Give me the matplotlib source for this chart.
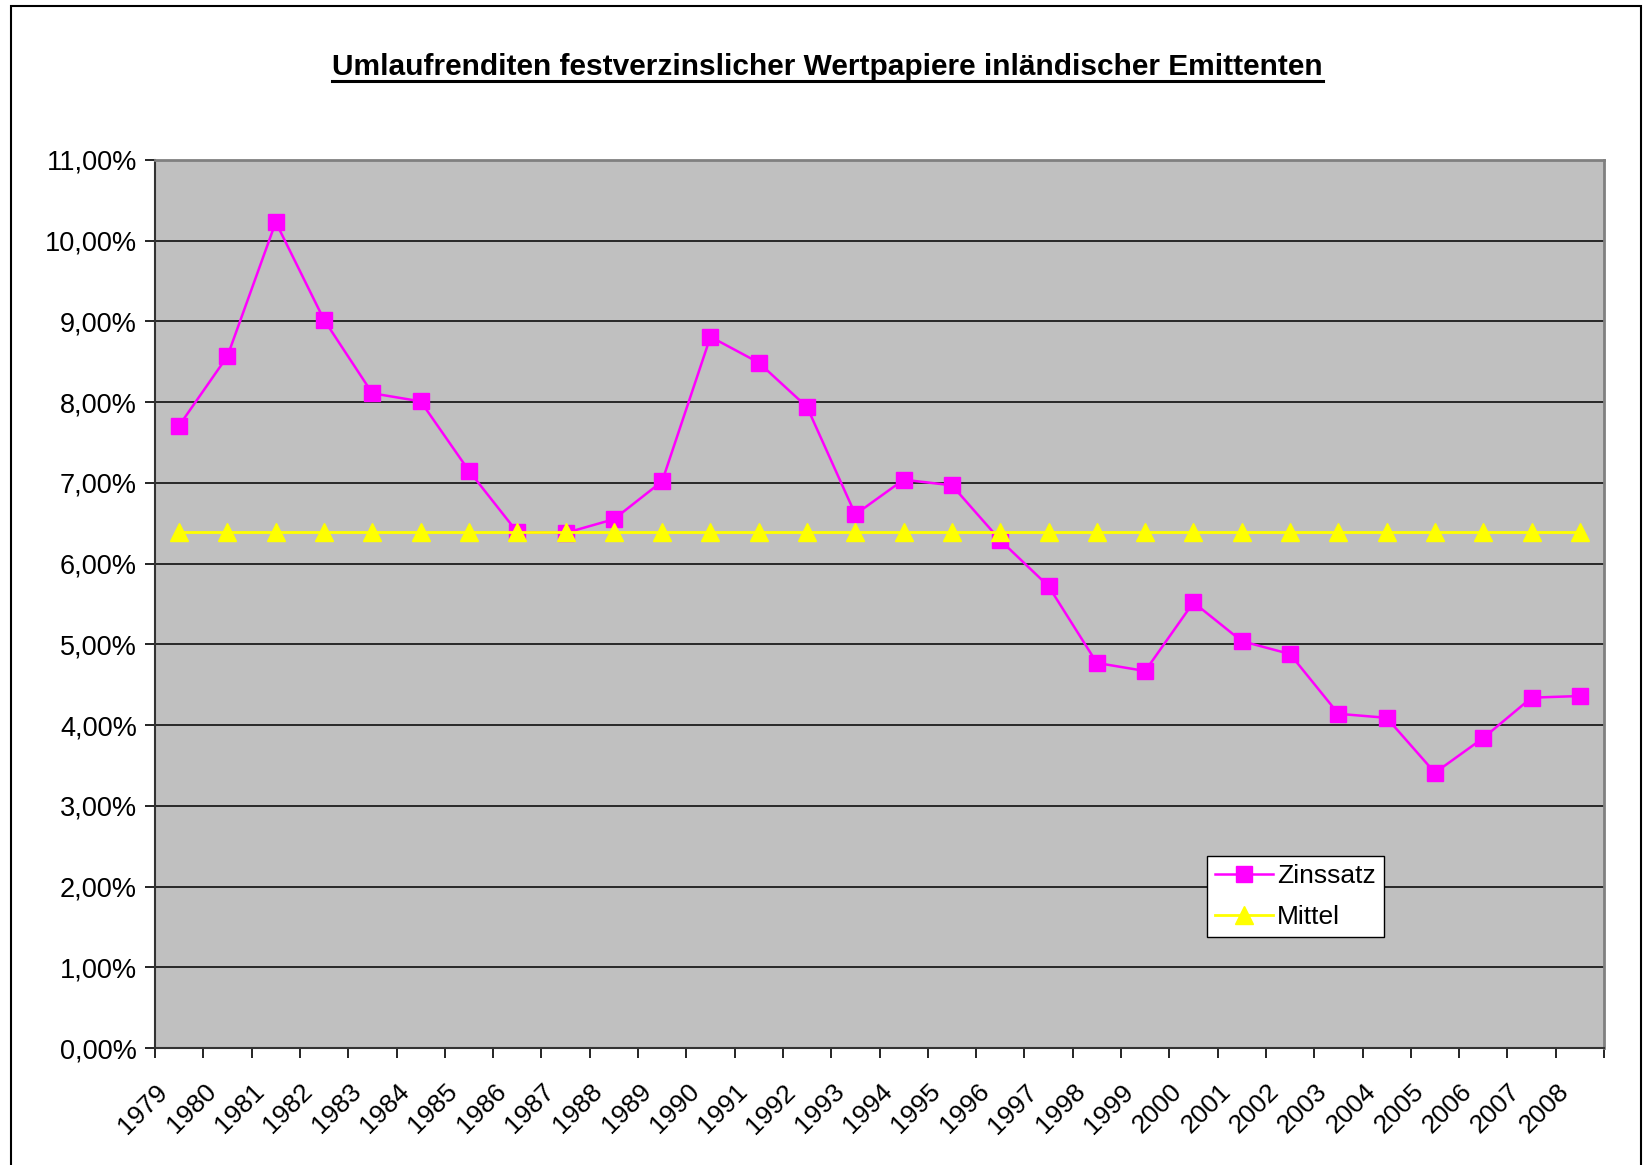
import numpy as np
import matplotlib.pyplot as plt
from matplotlib.lines import Line2D
from matplotlib.patches import Rectangle
from matplotlib.transforms import blended_transform_factory, ScaledTranslation

plt.rcParams['font.family'] = ['Liberation Sans', 'DejaVu Sans']

years = [str(y) for y in range(1979, 2009)]
zinssatz = [7.71, 8.57, 10.23, 9.02, 8.11, 8.01, 7.15, 6.39, 6.38, 6.55,
            7.02, 8.81, 8.49, 7.94, 6.61, 7.04, 6.97, 6.29, 5.72, 4.77,
            4.67, 5.52, 5.04, 4.88, 4.14, 4.09, 3.41, 3.84, 4.34, 4.36]
mittel = [6.39] * 30
title = "Umlaufrenditen festverzinslicher Wertpapiere inländischer Emittenten"

W, H = 1645, 1165
fig = plt.figure(figsize=(W / 100, H / 100), dpi=100)
fig.patch.set_facecolor('white')

# outer chart frame
fig.patches.append(Rectangle((11 / W, -0.01), (1641 - 11) / W, 1 - 6 / H + 0.01,
                             transform=fig.transFigure, fill=False,
                             edgecolor='black', linewidth=1.5))

ax = fig.add_axes([155 / W, 1 - 1048 / H, (1604 - 155) / W, (1048 - 160) / H])
ax.set_facecolor('#C0C0C0')

x = np.arange(len(years)) + 0.5
ax.plot(x, zinssatz, color='#FF00FF', lw=1.8, marker='s', ms=11,
        mec='#FF00FF', label='Zinssatz', zorder=3)
ax.plot(x, mittel, color='#FFFF00', lw=2.0, marker='^', ms=13,
        mec='#FFFF00', label='Mittel', zorder=4)

ax.set_xlim(0, len(years))
ax.set_ylim(0, 11)
ax.set_yticks(np.arange(0, 12, 1))
ax.set_yticklabels([f"{v:.2f}%".replace('.', ',') for v in range(0, 12)], fontsize=19.5)
ax.yaxis.grid(True, color='black', lw=1.1)
ax.set_axisbelow(True)

ax.set_xticks(np.arange(0, len(years) + 1))
ax.set_xticklabels([])
ax.tick_params(axis='both', direction='out', length=7, width=1.2, color='black')
ax.tick_params(axis='y', pad=6)

trans = blended_transform_factory(ax.transData, ax.transAxes) + \
    ScaledTranslation(-15 / 100, -40 / 100, fig.dpi_scale_trans)
for xi, lab in zip(x, years):
    ax.text(xi, 0, lab, transform=trans, rotation=45, rotation_mode='anchor',
            ha='right', va='center', fontsize=19)

for s in ['top', 'right']:
    ax.spines[s].set_color('#808080')
    ax.spines[s].set_linewidth(2)
for s in ['left', 'bottom']:
    ax.spines[s].set_color('#333333')
    ax.spines[s].set_linewidth(1.5)

leg = ax.legend(loc='upper left', bbox_to_anchor=(1207 / W, 1 - 856 / H),
                bbox_transform=fig.transFigure, borderaxespad=0, fontsize=19,
                frameon=True, fancybox=False, edgecolor='black', framealpha=1,
                handlelength=2.2, handletextpad=0.15, borderpad=0.3, labelspacing=0.65)
leg.get_frame().set_linewidth(1)

t = fig.text(0.503, 1 - 67 / H, title, ha='center', va='center',
             fontsize=21.5, fontweight='bold')
fig.canvas.draw()
bb = t.get_window_extent(fig.canvas.get_renderer())
fig.add_artist(Line2D([bb.x0 / W, bb.x1 / W], [1 - 81 / H, 1 - 81 / H],
                      transform=fig.transFigure, color='black', lw=2.2))

fig.savefig('out.png', dpi=100)
